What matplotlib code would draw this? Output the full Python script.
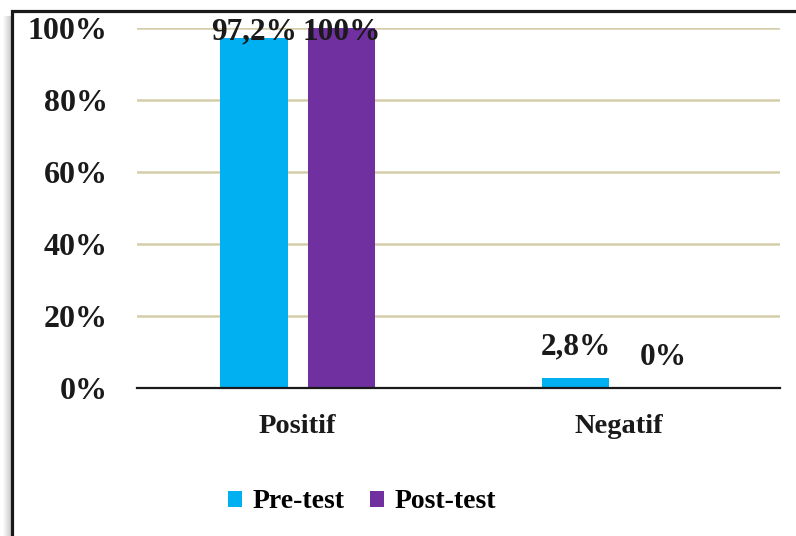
import numpy as np
import matplotlib.pyplot as plt
from matplotlib.patches import Rectangle

categories = ['Positif', 'Negatif']
series_names = ['Pre-test', 'Post-test']
pre_test = [97.2, 2.8]
post_test = [100, 0]
pre_labels = ['97,2%', '2,8%']
post_labels = ['100%', '0%']
y_ticks = [0, 20, 40, 60, 80, 100]
y_tick_labels = ['0%', '20%', '40%', '60%', '80%', '100%']

colors = ['#00B0F0', '#7030A0']

plt.rcParams['font.family'] = ['Liberation Serif', 'DejaVu Serif']
plt.rcParams['font.weight'] = 'bold'

fig = plt.figure(figsize=(7.96, 5.36), dpi=100)

# rahmen + schatten links
for i, a in enumerate(np.linspace(0.02, 0.22, 9)):
    fig.add_artist(Rectangle(((3 + i) / 796, -0.1), 1 / 796, 1.07,
                             transform=fig.transFigure, color='k', alpha=a, lw=0))
fig.add_artist(Rectangle((12 / 796, -0.1), 1.0, 1 - 11 / 536 + 0.1,
                         transform=fig.transFigure, fill=False,
                         edgecolor='#1a1a1a', lw=2.3))

ax = fig.add_axes([137 / 796, 1 - 388 / 536, 643 / 796, 360 / 536])
ax.set_facecolor('none')

x = np.arange(len(categories))
w = 0.21
off = 0.136
ax.bar(x - off, pre_test, w, color=colors[0], label=series_names[0], zorder=3)
ax.bar(x + off, post_test, w, color=colors[1], label=series_names[1], zorder=3)

for xs, vals, labs in [(x - off, pre_test, pre_labels), (x + off, post_test, post_labels)]:
    for xi, v, lab in zip(xs, vals, labs):
        ax.text(xi, min(v + 6.4, 96.8), lab, ha='center', va='baseline',
                fontsize=22.5, fontweight='bold', color='#1a1a1a', zorder=4)

ax.set_xlim(-0.5, 1.5)
ax.set_ylim(0, 100)
ax.set_yticks(y_ticks)
ax.set_yticklabels(y_tick_labels)
ax.set_xticks(x)
ax.set_xticklabels(categories)
ax.tick_params(axis='y', length=0, pad=21, labelsize=23)
ax.tick_params(axis='x', length=0, pad=19, labelsize=20.5)
for lab in ax.get_xticklabels() + ax.get_yticklabels():
    lab.set_fontweight('bold')
    lab.set_color('#1a1a1a')

ax.yaxis.grid(True, color='#D4CDAA', lw=1.8, zorder=0)
ax.set_axisbelow(True)
for s in ['top', 'right', 'left']:
    ax.spines[s].set_visible(False)
ax.spines['bottom'].set_color('#1a1a1a')
ax.spines['bottom'].set_linewidth(1.6)
ax.spines['bottom'].set_zorder(5)

leg = fig.legend(loc='center', bbox_to_anchor=(362 / 796, 1 - 502 / 536), ncol=2,
                 frameon=False, handlelength=0.5, handleheight=0.5,
                 handletextpad=0.4, columnspacing=0.9,
                 prop={'size': 20, 'weight': 'bold'})

fig.savefig('out.png', dpi=100)
